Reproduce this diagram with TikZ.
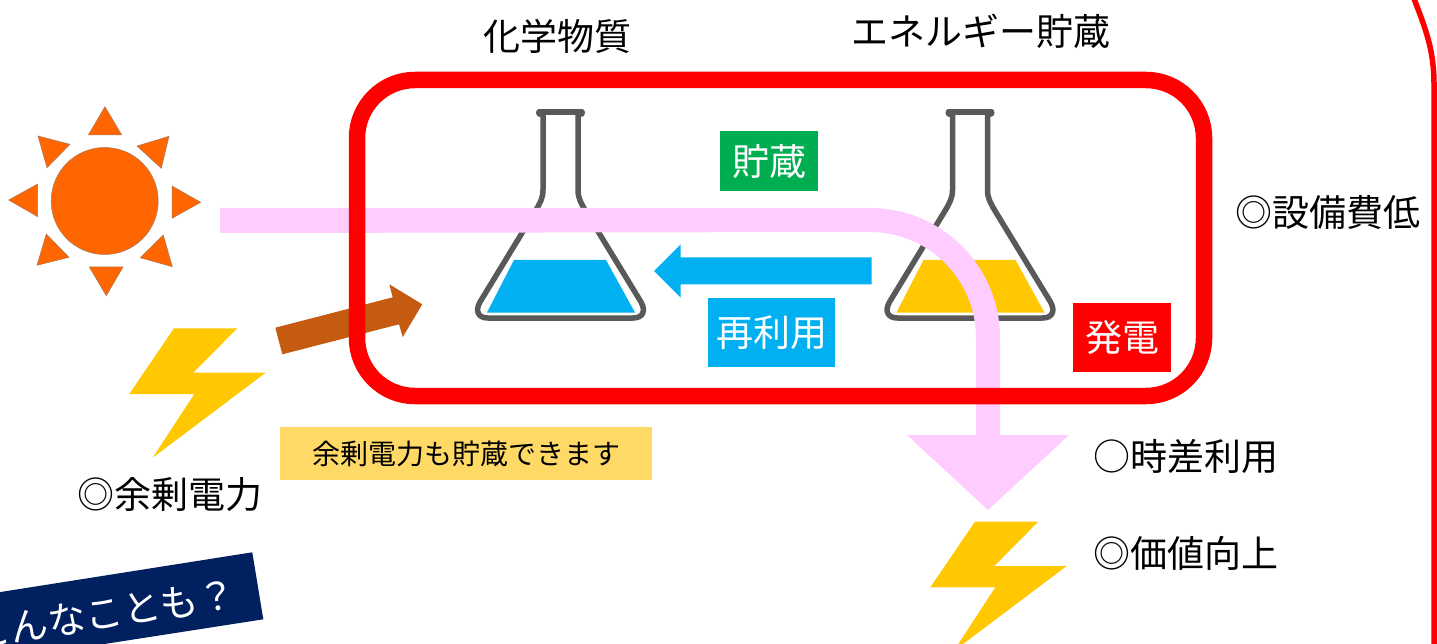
\documentclass[tikz,border=0pt]{standalone}
\usepackage{fontspec}
\setmainfont{Noto Sans CJK JP}
\begin{document}
\begin{tikzpicture}[x=1pt,y=-1pt,
  lbl/.style={inner sep=0pt,font=\fontsize{37}{37}\selectfont,text=black},
  tagbox/.style={inner sep=0pt,text=white,anchor=center,font=\fontsize{37}{37}\selectfont},
  bolt/.style={fill=boltyellow},
  flaskline/.style={draw=flaskgray,line width=5.5pt,line join=round,fill=white}]
\definecolor{boltyellow}{HTML}{FFC800}
\definecolor{flaskgray}{HTML}{595959}
\definecolor{pinkband}{HTML}{FFCCFF}
\definecolor{sunorange}{HTML}{FF6600}
\definecolor{tagblue}{HTML}{00B0F0}
\definecolor{taggreen}{HTML}{00AD50}
\definecolor{navybanner}{HTML}{002060}
\definecolor{notebox}{HTML}{FFD966}
\definecolor{brownarrow}{HTML}{C55A11}
\useasboundingbox (0,0) rectangle (1437,644);
\clip (0,0) rectangle (1437,644);
\fill[white] (0,0) rectangle (1437,644);
% outer red curve
\draw[red,line width=5.5pt] (1413,-4) .. controls (1426,30) and (1434,50) .. (1434,85) -- (1434,650);
% flasks
\newcommand{\flaskdraw}[2]{%
\begin{scope}[shift={(#1,0)}]
\draw[flaskline] (543,114) -- (543,190) .. controls (543,198) and (540,203) .. (536,210)
  -- (480,302) .. controls (475,311) and (478,318) .. (488,318) -- (633,318)
  .. controls (643,318) and (646,311) .. (641,302) -- (585,210)
  .. controls (581,203) and (578,198) .. (578,190) -- (578,114);
\draw[flaskgray,line width=5.5pt,line cap=round] (539,112) -- (582,112);
\fill[flaskgray] (540,113) circle[radius=4] (581,113) circle[radius=4];
\fill[#2] (514,260) -- (606,260) -- (635,312.5) -- (487,312.5) -- cycle;
\end{scope}}
\flaskdraw{0}{tagblue}
\flaskdraw{409.5}{boltyellow}
% sun
\fill[sunorange,draw=gray!70!sunorange,line width=.5pt]
 (104.7,201) circle[radius=53.5]
 (105,106.7) -- (88.3,135) -- (121.7,135) -- cycle
 (200.7,202.3) -- (172,186) -- (172,218.3) -- cycle
 (106.3,295.7) -- (89.3,267) -- (123,267) -- cycle
 (8.7,200) -- (37.7,184) -- (37.7,216.7) -- cycle
 (169,136.3) -- (137,146) -- (161.3,168.3) -- cycle
 (38,136) -- (70,144.3) -- (47,167.7) -- cycle
 (37,265.3) -- (46.3,234) -- (69,257.3) -- cycle
 (172.3,266.7) -- (163.3,235) -- (140.3,257.7) -- cycle;
% bolts
\fill[bolt] (174,328.3) -- (237.3,328.3) -- (193.3,372.7) -- (265.7,372.7) -- (152.7,457.7) -- (194.3,394) -- (129.3,394) -- cycle;
\begin{scope}[shift={(801,193.3)}]
\fill[bolt] (174,328.3) -- (237.3,328.3) -- (193.3,372.7) -- (265.7,372.7) -- (152.7,457.7) -- (194.3,394) -- (129.3,394) -- cycle;
\end{scope}
% pink arrow
\fill[pinkband] (220,208) -- (870,208) arc[start angle=-90,end angle=0,radius=130] -- (1000,435) -- (1069,435) -- (988,510) -- (907,435) -- (976,435) -- (976,338) arc[start angle=0,end angle=-90,radius=106] -- (220,233) -- cycle;
% blue arrow
\fill[tagblue] (871.5,257.5) -- (680.5,257.5) -- (680.5,244.5) -- (654,271) -- (680.5,297.5) -- (680.5,284.5) -- (871.5,284.5) -- cycle;
% brown arrow
\fill[brownarrow] (275.3,327.7) -- (392.7,297.3) -- (389.3,284.3) -- (422.3,304.3) -- (402.7,337) -- (399,324.3) -- (282.3,354.3) -- cycle;
% red frame
\draw[red,line width=16.5pt,rounded corners=58pt] (357,80) rectangle (1204,396);
% tags
\node[tagbox,fill=taggreen,minimum width=98pt,minimum height=60pt] (store) at (769,161) {貯蔵};
\node[tagbox,fill=tagblue,minimum width=127pt,minimum height=69pt] (reuse) at (771.5,332.5) {再利用};
\node[tagbox,fill=red,minimum width=98pt,minimum height=69pt] (gen) at (1122,337.5) {発電};
\node[inner sep=0pt,fill=notebox,minimum width=372pt,minimum height=53pt,font=\fontsize{28}{28}\selectfont,text=black] (note) at (466,453.5) {余剰電力も貯蔵できます};
% labels
\node[lbl] (chem) at (557,36) {化学物質};
\node[lbl] (energy) at (981,31) {エネルギー貯蔵};
\node[lbl] (cost) at (1328,212) {◎設備費低};
\node[lbl] (shift) at (1186,456) {○時差利用};
\node[lbl] (value) at (1186,553) {◎価値向上};
\node[lbl] (surplus) at (170,495) {◎余剰電力};
% banner
\fill[navybanner] (252.3,552.3) -- (263.3,619.3) -- (-50,668) -- (-50,600) -- cycle;
\node[rotate=9,text=white,inner sep=0pt,anchor=east,font=\fontsize{38}{38}\selectfont] (banner) at (236,593) {こんなことも？};
\end{tikzpicture}
\end{document}
